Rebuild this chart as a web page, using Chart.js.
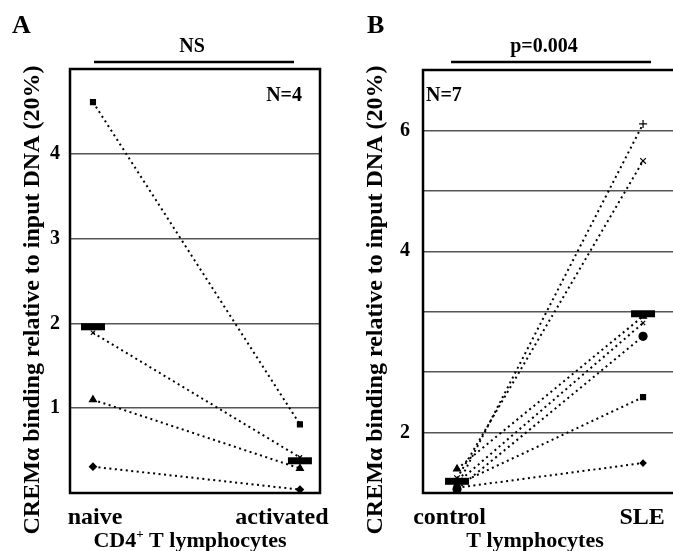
<!DOCTYPE html>
<html>
<head>
<meta charset="utf-8">
<script src="https://cdn.jsdelivr.net/npm/chart.js@4"></script>
<style>
body{margin:0;background:#fff;}
#wrap{position:relative;width:673px;height:551px;overflow:hidden;background:#fff;}
canvas{position:absolute;top:0;}
#cA{left:0;}
#cB{left:340px;}
</style>
</head>
<body>
<div id="wrap">
<canvas id="cA" width="340" height="551"></canvas>
<canvas id="cB" width="333" height="551"></canvas>
</div>
<script>
// panel A - naive vs activated CD4+ T cells (N=4)
const aGroups = ['naive', 'activated'];
const aSquare = [4.61, 0.81];
const aCross = [1.89, 0.42];
const aTriangle = [1.10, 0.29];
const aDiamond = [0.31, 0.04];
const aMean = [1.96, 0.38];
const aTicks = [1, 2, 3, 4];

// panel B - control vs SLE T cells (N=7)
const bGroups = ['control', 'SLE'];
const bPlus = [1.63, 6.51];
const bStar = [1.68, 5.65];
const bTriangle = [1.74, 3.12];
const bCross = [1.65, 3.04];
const bCircle = [1.61, 2.89];
const bSquare = [1.64, 2.29];
const bDiamond = [1.62, 1.78];
const bMean = [1.66, 3.15];
const bGrid = [2, 2.52, 3.17, 4, 5.04, 6.35];
const bTickLabels = ['2', '', '', '4', '', '6'];

const SERIF = '"Liberation Serif", "Times New Roman", serif';
const YTITLE = 'CREM\u03b1 binding relative to input DNA (20%)';

// where the group names sit under the axis (x units)
const aLabelAt = [0.01, 0.913];
const bLabelAt = [-0.04, 0.995];

function series(vals, style, r){
  return {
    data: vals.map((v, i) => ({x: i, y: v})),
    showLine: true,
    borderColor: '#000',
    borderWidth: 2,
    borderDash: [2, 3.5],
    pointStyle: style,
    pointRadius: r,
    pointBackgroundColor: '#000',
    pointBorderColor: '#000',
    pointBorderWidth: 1.2
  };
}
function meanBar(vals){
  return {
    data: vals.map((v, i) => ({x: i, y: v})),
    showLine: false,
    pointStyle: 'line',
    pointRadius: 12,
    pointBorderColor: '#000',
    pointBorderWidth: 7
  };
}

function decor(o){
  return {
    id: 'decor',
    afterDraw(chart){
      const ctx = chart.ctx;
      const ca = chart.chartArea;
      ctx.save();
      ctx.strokeStyle = '#000';
      ctx.lineWidth = 2.5;
      ctx.beginPath();
      if (o.closed) {
        ctx.rect(ca.left, ca.top, ca.right - ca.left, ca.bottom - ca.top);
      } else {
        ctx.moveTo(ca.right + 2, ca.top);
        ctx.lineTo(ca.left, ca.top);
        ctx.lineTo(ca.left, ca.bottom);
        ctx.lineTo(ca.right + 2, ca.bottom);
      }
      ctx.stroke();
      // significance bar
      ctx.beginPath();
      ctx.moveTo(o.bar[0], 62);
      ctx.lineTo(o.bar[1], 62);
      ctx.stroke();

      ctx.fillStyle = '#000';
      ctx.textBaseline = 'alphabetic';
      ctx.font = 'bold 26px ' + SERIF;
      ctx.textAlign = 'left';
      ctx.fillText(o.letter, o.letterX, 33);
      ctx.font = 'bold 20px ' + SERIF;
      ctx.textAlign = 'center';
      ctx.fillText(o.stat, o.statX, 52);
      ctx.textAlign = o.nAlign;
      ctx.fillText(o.n, o.nX, 101);

      // x title (with superscript part)
      ctx.font = 'bold 22px ' + SERIF;
      const w1 = ctx.measureText(o.xt[0]).width;
      const w3 = ctx.measureText(o.xt[2]).width;
      ctx.font = 'bold 13px ' + SERIF;
      const w2 = ctx.measureText(o.xt[1]).width;
      let x = o.xtX - (w1 + w2 + w3) / 2;
      ctx.textAlign = 'left';
      ctx.font = 'bold 22px ' + SERIF;
      ctx.fillText(o.xt[0], x, 547);
      ctx.font = 'bold 13px ' + SERIF;
      ctx.fillText(o.xt[1], x + w1, 538);
      ctx.font = 'bold 22px ' + SERIF;
      ctx.fillText(o.xt[2], x + w1 + w2, 547);

      // y title
      ctx.translate(o.ytX, 300);
      ctx.rotate(-Math.PI / 2);
      ctx.textAlign = 'center';
      ctx.textBaseline = 'middle';
      ctx.font = 'bold 24px ' + SERIF;
      ctx.fillText(YTITLE, 0, 0);
      ctx.restore();
    }
  };
}

const tickFont = {family: SERIF, size: 24, weight: 'bold'};
const noSidePad = s => { s.height = 58; s.paddingLeft = 0; s.paddingRight = 0; };

new Chart(document.getElementById('cA'), {
  type: 'scatter',
  data: {
    datasets: [
      meanBar(aMean),
      series(aSquare, 'rect', 3.5),
      series(aCross, 'crossRot', 3),
      series(aTriangle, 'triangle', 4),
      series(aDiamond, 'rectRot', 3.5)
    ]
  },
  options: {
    responsive: false,
    animation: false,
    layout: {autoPadding: false, padding: {top: 69, right: 20, left: 0, bottom: 0}},
    plugins: {legend: {display: false}, tooltip: {enabled: false}},
    scales: {
      x: {
        type: 'linear', min: -0.111, max: 1.097,
        afterBuildTicks: s => { s.ticks = aLabelAt.map(v => ({value: v})); },
        afterFit: noSidePad,
        ticks: {callback: (v, i) => aGroups[i], font: tickFont, color: '#000', padding: 2, maxRotation: 0, autoSkip: false},
        grid: {display: false},
        border: {display: false}
      },
      y: {
        min: 0, max: 5,
        afterBuildTicks: s => { s.ticks = aTicks.map(v => ({value: v})); },
        afterFit: s => { s.width = 70; },
        ticks: {font: {family: SERIF, size: 20, weight: 'bold'}, color: '#000', padding: 10},
        grid: {color: '#555', lineWidth: 1.5, drawTicks: false},
        border: {display: false}
      }
    }
  },
  plugins: [decor({closed: true, bar: [94, 294], letter: 'A', letterX: 12, stat: 'NS', statX: 192,
    n: 'N=4', nX: 302, nAlign: 'right', xt: ['CD4', '+', ' T lymphocytes'], xtX: 190, ytX: 33})]
});

new Chart(document.getElementById('cB'), {
  type: 'scatter',
  data: {
    datasets: [
      meanBar(bMean),
      series(bPlus, 'cross', 4),
      series(bStar, 'crossRot', 4),
      series(bTriangle, 'triangle', 4),
      series(bCross, 'crossRot', 3),
      series(bCircle, 'circle', 4),
      series(bSquare, 'rect', 3.5),
      series(bDiamond, 'rectRot', 3)
    ]
  },
  options: {
    responsive: false,
    animation: false,
    layout: {autoPadding: false, padding: {top: 70, right: 0, left: 0, bottom: 0}},
    plugins: {legend: {display: false}, tooltip: {enabled: false}},
    scales: {
      x: {
        type: 'linear', min: -0.183, max: 1.161,
        afterBuildTicks: s => { s.ticks = bLabelAt.map(v => ({value: v})); },
        afterFit: noSidePad,
        ticks: {callback: (v, i) => bGroups[i], font: tickFont, color: '#000', padding: 2, maxRotation: 0, autoSkip: false},
        grid: {display: false},
        border: {display: false}
      },
      y: {
        type: 'logarithmic', min: Math.pow(2, 2 / 3), max: 8,
        afterBuildTicks: s => { s.ticks = bGrid.map(v => ({value: v})); },
        afterFit: s => { s.width = 83; },
        ticks: {callback: (v, i) => bTickLabels[i], font: {family: SERIF, size: 20, weight: 'bold'}, color: '#000', padding: 13},
        grid: {color: '#555', lineWidth: 1.5, drawTicks: false},
        border: {display: false}
      }
    }
  },
  plugins: [decor({closed: false, bar: [111, 311], letter: 'B', letterX: 27, stat: 'p=0.004', statX: 204,
    n: 'N=7', nX: 86, nAlign: 'left', xt: ['', '', 'T lymphocytes'], xtX: 195, ytX: 36})]
});
</script>
</body>
</html>
